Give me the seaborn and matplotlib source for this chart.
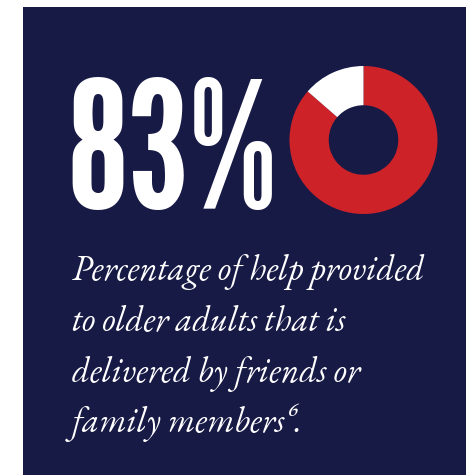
import matplotlib
matplotlib.use("Agg")
import matplotlib.pyplot as plt
from matplotlib.patches import Rectangle
import seaborn as sns
import logging
logging.getLogger("matplotlib.font_manager").setLevel(logging.ERROR)

# ---- data ----
share_labels = ["Friends or family", "Other"]
share_values = [86.4, 13.6]          # as drawn in the ring
headline = "83%"
caption_lines = ["Percentage of help provided",
                 "to older adults that is",
                 "delivered by friends or",
                 "family members\u2076."]

NAVY = "#181A46"
RED = "#CE2229"
WHITE = "#FFFFFF"

sns.set_theme(style="white")

COND = ["League Gothic", "Bebas Neue", "Oswald", "DejaVu Sans"]
SERIF = ["EB Garamond", "Cormorant Garamond", "Liberation Serif", "DejaVu Serif"]

W, H = 466, 475
fig = plt.figure(figsize=(W / 100, H / 100), dpi=100, facecolor="white")

def fx(px):
    return px / W

def fy(py):
    return 1 - py / H

# navy panel
fig.patches.append(Rectangle((fx(23), 0), 1 - fx(23), fy(7), transform=fig.transFigure,
                             facecolor=NAVY, edgecolor="none", zorder=-5))

# donut
cx, cy, r = 363.5, 140, 74
ax = fig.add_axes([fx(cx - r), fy(cy + r), (2 * r) / W, (2 * r) / H])
ax.set_zorder(2)
ax.patch.set_alpha(0)
ax.pie(share_values, colors=[RED, WHITE], startangle=90, counterclock=False,
       radius=1, wedgeprops=dict(width=0.53, edgecolor="none", linewidth=0))
ax.set_xlim(-1, 1)
ax.set_ylim(-1, 1)
ax.set_aspect("equal")
ax.axis("off")

# headline number
fig.text(fx(67.5), fy(209), headline, color=WHITE, fontsize=127,
         family=COND, ha="left", va="baseline")

# caption
baselines = [280, 331, 382, 432]
for line, b in zip(caption_lines, baselines):
    fig.text(fx(72), fy(b), line, color=WHITE, fontsize=25, style="italic",
             family=SERIF, ha="left", va="baseline")

fig.savefig("out.png", dpi=100, facecolor="white")
